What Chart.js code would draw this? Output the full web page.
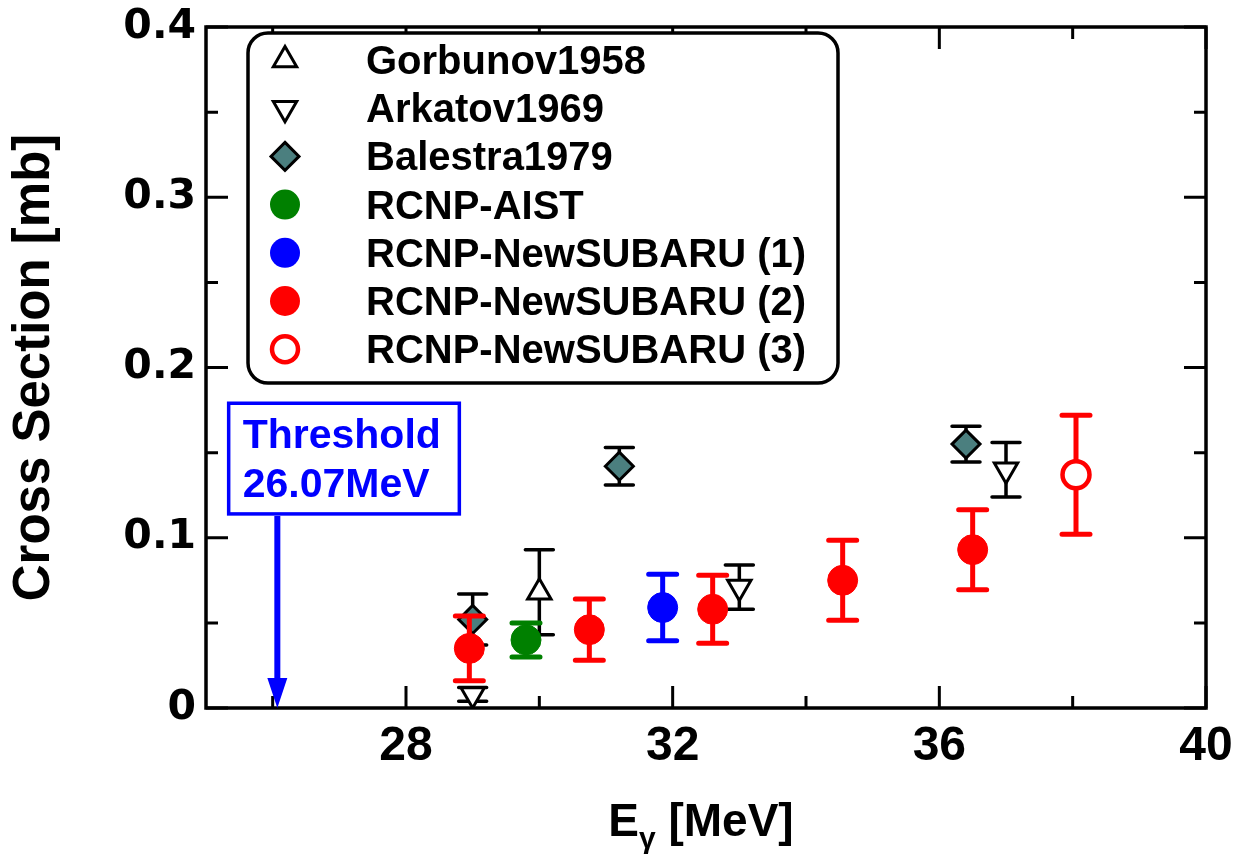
<!DOCTYPE html>
<html>
<head>
<meta charset="utf-8">
<script src="https://cdn.jsdelivr.net/npm/chart.js@4.4.0/dist/chart.umd.min.js"></script>
<style>
  html, body { margin: 0; padding: 0; background: #fff; }
  #wrap { width: 1236px; height: 855px; position: relative; }
</style>
</head>
<body>
<div id="wrap"><canvas id="chart"></canvas></div>
<script>
// --- data (E in MeV, cross section in mb, symmetric errors) ---
const gorbunovE = [30.0];
const gorbunovXS = [0.068];
const gorbunovErr = [0.025];

const arkatovE = [29.0, 33.0, 37.0];
const arkatovXS = [0.008, 0.071, 0.140];
const arkatovErr = [0.004, 0.013, 0.016];

const balestraE = [29.0, 31.2, 36.4];
const balestraXS = [0.052, 0.142, 0.155];
const balestraErr = [0.015, 0.011, 0.0105];

const aistE = [29.8];
const aistXS = [0.040];
const aistErr = [0.010];

const ns1E = [31.85];
const ns1XS = [0.059];
const ns1Err = [0.0195];

const ns2E = [28.95, 30.75, 32.6, 34.55, 36.5];
const ns2XS = [0.035, 0.046, 0.058, 0.075, 0.093];
const ns2Err = [0.019, 0.018, 0.020, 0.0235, 0.0235];

const ns3E = [38.05];
const ns3XS = [0.137];
const ns3Err = [0.035];

const xMajorTicks = [28, 32, 36, 40];
const xMinorTicks = [26, 30, 34, 38];
const yMajorTicks = [0, 0.1, 0.2, 0.3, 0.4];
const yMinorTicks = [0.05, 0.15, 0.25, 0.35];

const thresholdE = 26.07;

const FONT = '"Liberation Sans", Arial, Helvetica, sans-serif';

function points(xs, ys) {
    return xs.map((x, i) => ({ x: x, y: ys[i] }));
}

function makeSet(label, xs, ys, errs, opts) {
    return Object.assign({
        label: label,
        data: points(xs, ys),
        errors: errs,
        showLine: false
    }, opts);
}

const datasets = [
    makeSet('Gorbunov1958', gorbunovE, gorbunovXS, gorbunovErr, {
        pointStyle: 'triangle', pointRadius: 13.5, pointRotation: 0,
        backgroundColor: '#ffffff', borderColor: '#000000', borderWidth: 3,
        errColor: '#000000', errWidth: 3.5, capHalf: 14
    }),
    makeSet('Arkatov1969', arkatovE, arkatovXS, arkatovErr, {
        pointStyle: 'triangle', pointRadius: 13.5, pointRotation: 180,
        backgroundColor: '#ffffff', borderColor: '#000000', borderWidth: 3,
        errColor: '#000000', errWidth: 3.5, capHalf: 14
    }),
    makeSet('Balestra1979', balestraE, balestraXS, balestraErr, {
        pointStyle: 'rectRot', pointRadius: 14,
        backgroundColor: '#4b7f7f', borderColor: '#000000', borderWidth: 3,
        errColor: '#000000', errWidth: 3.5, capHalf: 14
    }),
    makeSet('RCNP-AIST', aistE, aistXS, aistErr, {
        pointStyle: 'circle', pointRadius: 15,
        backgroundColor: '#008000', borderColor: '#008000', borderWidth: 1,
        errColor: '#008000', errWidth: 5, capHalf: 14
    }),
    makeSet('RCNP-NewSUBARU (1)', ns1E, ns1XS, ns1Err, {
        pointStyle: 'circle', pointRadius: 15,
        backgroundColor: '#0000ff', borderColor: '#0000ff', borderWidth: 1,
        errColor: '#0000ff', errWidth: 5, capHalf: 14
    }),
    makeSet('RCNP-NewSUBARU (2)', ns2E, ns2XS, ns2Err, {
        pointStyle: 'circle', pointRadius: 15,
        backgroundColor: '#ff0000', borderColor: '#ff0000', borderWidth: 1,
        errColor: '#ff0000', errWidth: 5, capHalf: 14
    }),
    makeSet('RCNP-NewSUBARU (3)', ns3E, ns3XS, ns3Err, {
        pointStyle: 'circle', pointRadius: 13.5,
        backgroundColor: '#ffffff', borderColor: '#ff0000', borderWidth: 4.5,
        errColor: '#ff0000', errWidth: 5, capHalf: 14
    })
];
// later datasets on top
datasets.forEach((ds, i) => { ds.order = datasets.length - i; });

// own marker drawing for the legend box
function drawMarker(ctx, ds, x, y) {
    const r = ds.pointRadius;
    ctx.save();
    ctx.beginPath();
    if (ds.pointStyle === 'circle') {
        ctx.arc(x, y, r, 0, Math.PI * 2);
    } else if (ds.pointStyle === 'triangle') {
        let rad = (ds.pointRotation || 0) * Math.PI / 180;
        for (let k = 0; k < 3; k++) {
            const px = x + Math.sin(rad) * r, py = y - Math.cos(rad) * r;
            if (k === 0) ctx.moveTo(px, py); else ctx.lineTo(px, py);
            rad += 2 * Math.PI / 3;
        }
    } else {
        ctx.moveTo(x, y - r); ctx.lineTo(x + r, y); ctx.lineTo(x, y + r); ctx.lineTo(x - r, y);
    }
    ctx.closePath();
    ctx.fillStyle = ds.backgroundColor;
    ctx.fill();
    ctx.lineWidth = ds.borderWidth;
    ctx.strokeStyle = ds.borderColor;
    ctx.lineJoin = 'miter';
    if (ds.borderWidth) ctx.stroke();
    ctx.restore();
}

const decorPlugin = {
    id: 'decor',
    beforeDatasetDraw(chart, args) {
        const ds = chart.data.datasets[args.index];
        if (!ds.errors) return;
        const ctx = chart.ctx, xs = chart.scales.x, ys = chart.scales.y;
        ctx.save();
        ctx.strokeStyle = ds.errColor;
        ctx.lineWidth = ds.errWidth;
        ctx.lineCap = 'round';
        ds.data.forEach((p, i) => {
            const e = ds.errors[i];
            const px = xs.getPixelForValue(p.x);
            const top = ys.getPixelForValue(p.y + e);
            const bot = ys.getPixelForValue(p.y - e);
            ctx.beginPath();
            ctx.moveTo(px, top); ctx.lineTo(px, bot);
            ctx.moveTo(px - ds.capHalf, top); ctx.lineTo(px + ds.capHalf, top);
            ctx.moveTo(px - ds.capHalf, bot); ctx.lineTo(px + ds.capHalf, bot);
            ctx.stroke();
        });
        ctx.restore();
    },
    afterDatasetsDraw(chart) {
        const ctx = chart.ctx, xs = chart.scales.x, ys = chart.scales.y;
        const a = chart.chartArea;
        ctx.save();

        // frame
        ctx.strokeStyle = '#000';
        ctx.lineWidth = 3.5;
        ctx.strokeRect(a.left, a.top, a.right - a.left, a.bottom - a.top);

        // inward ticks on all four sides
        ctx.lineWidth = 3;
        ctx.beginPath();
        const xt = (vals, len) => vals.forEach(v => {
            const px = xs.getPixelForValue(v);
            ctx.moveTo(px, a.bottom); ctx.lineTo(px, a.bottom - len);
            ctx.moveTo(px, a.top); ctx.lineTo(px, a.top + len);
        });
        const yt = (vals, len) => vals.forEach(v => {
            const py = ys.getPixelForValue(v);
            ctx.moveTo(a.left, py); ctx.lineTo(a.left + len, py);
            ctx.moveTo(a.right, py); ctx.lineTo(a.right - len, py);
        });
        xt(xMajorTicks, 22); xt(xMinorTicks, 12);
        yt(yMajorTicks, 22); yt(yMinorTicks, 12);
        ctx.stroke();

        // legend box
        const lx = a.left + 42, ly = a.top + 6, lw = 590, lh = 350, rr = 20;
        ctx.beginPath();
        ctx.moveTo(lx + rr, ly);
        ctx.arcTo(lx + lw, ly, lx + lw, ly + lh, rr);
        ctx.arcTo(lx + lw, ly + lh, lx, ly + lh, rr);
        ctx.arcTo(lx, ly + lh, lx, ly, rr);
        ctx.arcTo(lx, ly, lx + lw, ly, rr);
        ctx.closePath();
        ctx.fillStyle = '#fff';
        ctx.fill();
        ctx.lineWidth = 3.5;
        ctx.strokeStyle = '#000';
        ctx.stroke();

        ctx.font = 'bold 40px ' + FONT;
        ctx.textAlign = 'left';
        ctx.textBaseline = 'alphabetic';
        chart.data.datasets.forEach((ds, i) => {
            const base = ly + 41 + i * 48.2;
            const legendDs = Object.assign({}, ds, {
                pointRadius: ds.pointStyle === 'circle' ? 15 : ds.pointRadius,
                borderWidth: ds.pointStyle === 'circle' && ds.backgroundColor !== '#ffffff' ? 0 : ds.borderWidth
            });
            if (ds.label === 'RCNP-NewSUBARU (3)') legendDs.pointRadius = 13;
            drawMarker(ctx, legendDs, lx + 37, base - 14);
            ctx.fillStyle = '#000';
            ctx.fillText(ds.label, lx + 118, base);
        });

        // threshold annotation
        const tx = xs.getPixelForValue(thresholdE);
        const t0 = ys.getPixelForValue(0);
        const bx = xs.getPixelForValue(25.34), bxr = xs.getPixelForValue(28.8);
        const by = ys.getPixelForValue(0.179), byb = ys.getPixelForValue(0.114);
        ctx.strokeStyle = '#0000ff';
        ctx.lineWidth = 3.5;
        ctx.fillStyle = '#fff';
        ctx.fillRect(bx, by, bxr - bx, byb - by);
        ctx.strokeRect(bx, by, bxr - bx, byb - by);
        ctx.fillStyle = '#0000ff';
        ctx.font = 'bold 41px ' + FONT;
        ctx.fillText('Threshold', bx + 14, by + 45);
        ctx.fillText('26.07MeV', bx + 14, by + 94);
        ctx.lineWidth = 6;
        ctx.lineCap = 'butt';
        ctx.beginPath();
        ctx.moveTo(tx, byb + 2);
        ctx.lineTo(tx, t0 - 28);
        ctx.stroke();
        ctx.beginPath();
        ctx.moveTo(tx - 10, t0 - 30);
        ctx.lineTo(tx + 10, t0 - 30);
        ctx.lineTo(tx, t0);
        ctx.closePath();
        ctx.fill();

        // x axis title with subscript gamma
        ctx.fillStyle = '#000';
        ctx.textAlign = 'left';
        const big = 'bold 46px ' + FONT, small = 'bold 30px ' + FONT;
        ctx.font = big;
        const wE = ctx.measureText('E').width;
        const wRest = ctx.measureText(' [MeV]').width;
        ctx.font = small;
        const wG = ctx.measureText('\u03b3').width;
        const total = wE + wG + wRest;
        let sx = (a.left + a.right) / 2 - 5 - total / 2;
        const base = 836;
        ctx.font = big;
        ctx.fillText('E', sx, base);
        sx += wE;
        ctx.font = small;
        ctx.fillText('\u03b3', sx, base + 12);
        sx += wG;
        ctx.font = big;
        ctx.fillText(' [MeV]', sx, base);

        ctx.restore();
    }
};

const ctx = document.getElementById('chart').getContext('2d');
new Chart(ctx, {
    type: 'scatter',
    data: { datasets: datasets },
    plugins: [decorPlugin],
    options: {
        responsive: true,
        maintainAspectRatio: false,
        animation: false,
        layout: { padding: { top: 27, right: 30, left: 0, bottom: 0 } },
        plugins: { legend: { display: false }, tooltip: { enabled: false } },
        scales: {
            x: {
                type: 'linear',
                min: 25,
                max: 40,
                grid: { display: false, drawTicks: false },
                border: { display: false },
                afterBuildTicks: s => { s.ticks = xMajorTicks.map(v => ({ value: v })); },
                afterFit: s => { s.height = 147; s.paddingLeft = 0; s.paddingRight = 0; },
                ticks: {
                    autoSkip: false,
                    maxRotation: 0,
                    padding: 10,
                    color: '#000',
                    font: { family: FONT, size: 48, weight: 'bold' }
                }
            },
            y: {
                type: 'linear',
                min: 0,
                max: 0.4,
                grid: { display: false, drawTicks: false },
                border: { display: false },
                afterBuildTicks: s => { s.ticks = yMajorTicks.map(v => ({ value: v })); },
                afterFit: s => { s.width = 206; s.paddingTop = 0; s.paddingBottom = 0; },
                ticks: {
                    padding: 10,
                    color: '#000',
                    font: { family: '"DejaVu Sans", Verdana, sans-serif', size: 41, weight: 'bold' },
                    callback: v => (v === 0 ? '0' : v.toFixed(1))
                },
                title: {
                    display: true,
                    text: 'Cross Section [mb]',
                    color: '#000',
                    padding: { top: 4, bottom: 0 },
                    font: { family: FONT, size: 51, weight: 'bold' }
                }
            }
        }
    }
});
</script>
</body>
</html>
